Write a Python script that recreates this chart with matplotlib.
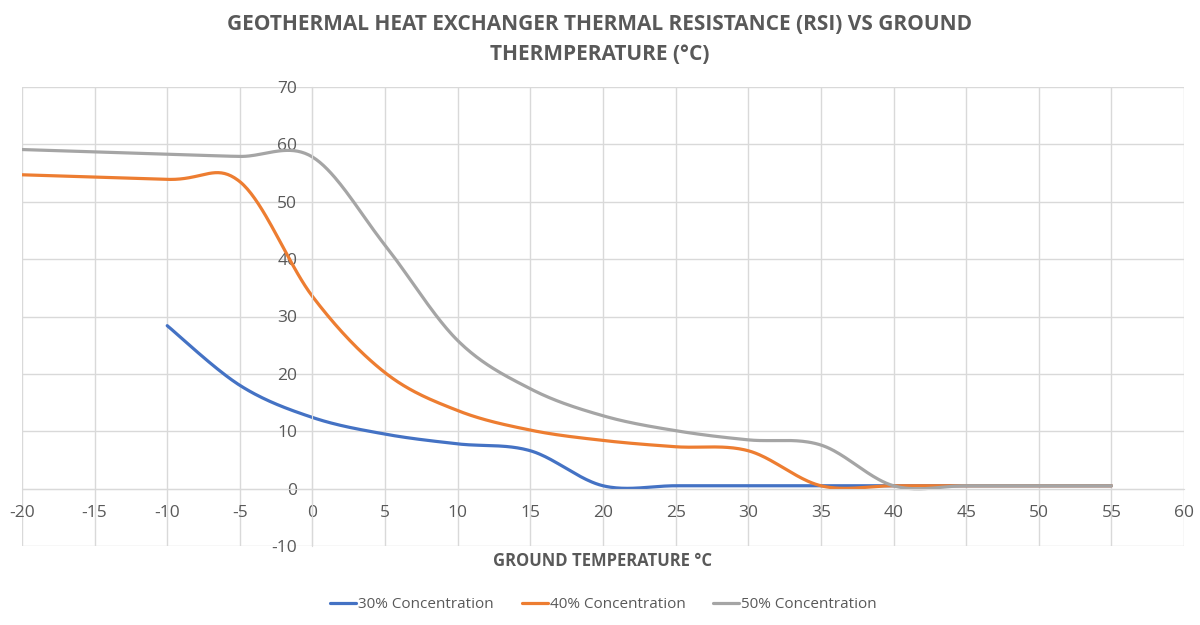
import numpy as np
import matplotlib.pyplot as plt

# ground temperature (deg C) and RSI
temp_30 = [-10, -5, 0, 5, 10, 15, 20, 25, 30, 35, 40, 45, 50, 55]
rsi_30 = [28.4, 18.0, 12.4, 9.5, 7.8, 6.6, 0.5, 0.5, 0.5, 0.5, 0.5, 0.5, 0.5, 0.5]

temp_40 = [-20, -10, -5, 0, 5, 10, 15, 20, 25, 30, 35, 40, 45, 50, 55]
rsi_40 = [54.7, 53.9, 53.5, 33.5, 20.2, 13.6, 10.2, 8.4, 7.3, 6.6, 0.5, 0.5, 0.5, 0.5, 0.5]

temp_50 = [-20, -10, -5, 0, 5, 10, 15, 20, 25, 30, 35, 40, 45, 50, 55]
rsi_50 = [59.1, 58.3, 57.9, 57.8, 42.4, 25.8, 17.4, 12.7, 10.1, 8.5, 7.6, 0.5, 0.5, 0.5, 0.5]

labels = ['30% Concentration', '40% Concentration', '50% Concentration']
colors = ['#4472C4', '#ED7D31', '#A5A5A5']


def smooth(xs, ys, n=40):
    # excel-like smoothed line: bezier segments with catmull-rom control points
    p = np.column_stack([xs, ys]).astype(float)
    p = np.vstack([p[0], p, p[-1]])
    out = []
    t = np.linspace(0, 1, n)[:, None]
    for i in range(1, len(p) - 2):
        p0, p1 = p[i], p[i + 1]
        c1 = p0 + (p[i + 1] - p[i - 1]) / 6
        c2 = p1 - (p[i + 2] - p[i]) / 6
        seg = ((1 - t) ** 3) * p0 + 3 * ((1 - t) ** 2) * t * c1 + 3 * (1 - t) * t ** 2 * c2 + t ** 3 * p1
        out.append(seg)
    out = np.vstack(out)
    return out[:, 0], out[:, 1]


plt.rcParams['font.family'] = ['Open Sans', 'DejaVu Sans']
plt.rcParams['axes.unicode_minus'] = False
fig = plt.figure(figsize=(12, 6.25), dpi=100)
ax = fig.add_axes([0.0183, 0.1264, 0.9684, 0.7344])

for xs, ys, lab, c in zip([temp_30, temp_40, temp_50], [rsi_30, rsi_40, rsi_50], labels, colors):
    sx, sy = smooth(xs, ys)
    ax.plot(sx, sy, color=c, lw=2.3, label=lab, solid_capstyle='round')

ax.set_xlim(-20, 60)
ax.set_ylim(-10, 70)
ax.set_xticks(np.arange(-20, 61, 5))
ax.set_yticks(np.arange(-10, 71, 10))
ax.grid(True, color='#D9D9D9', lw=1)
ax.set_axisbelow(True)
for s in ['top', 'right']:
    ax.spines[s].set_visible(False)
ax.spines['left'].set_position(('data', 0))
ax.spines['bottom'].set_position(('data', 0))
ax.spines['left'].set_color('#D9D9D9')
ax.spines['bottom'].set_color('#D9D9D9')
ax.tick_params(axis='x', length=0, pad=12, labelsize=12.5, labelcolor='#595959')
ax.tick_params(axis='y', length=0, pad=11, labelsize=12.5, labelcolor='#595959')

fig.text(0.5, 1 - 25 / 625, 'GEOTHERMAL HEAT EXCHANGER THERMAL RESISTANCE (RSI) VS GROUND',
         ha='center', va='center', fontsize=15, fontweight='bold', color='#595959')
fig.text(0.5, 1 - 55 / 625, 'THERMPERATURE (°C)',
         ha='center', va='center', fontsize=15, fontweight='bold', color='#595959')
fig.text(0.5025, 1 - 561 / 625, 'GROUND TEMPERATURE °C',
         ha='center', va='center', fontsize=12, fontweight='bold', color='#595959')

fig.legend(loc='center', bbox_to_anchor=(0.503, 1 - 605 / 625), ncol=3, frameon=False,
           fontsize=11, labelcolor='#595959', handlelength=1.7, handletextpad=0.15,
           columnspacing=1.8)

fig.savefig('out.png', dpi=100)
